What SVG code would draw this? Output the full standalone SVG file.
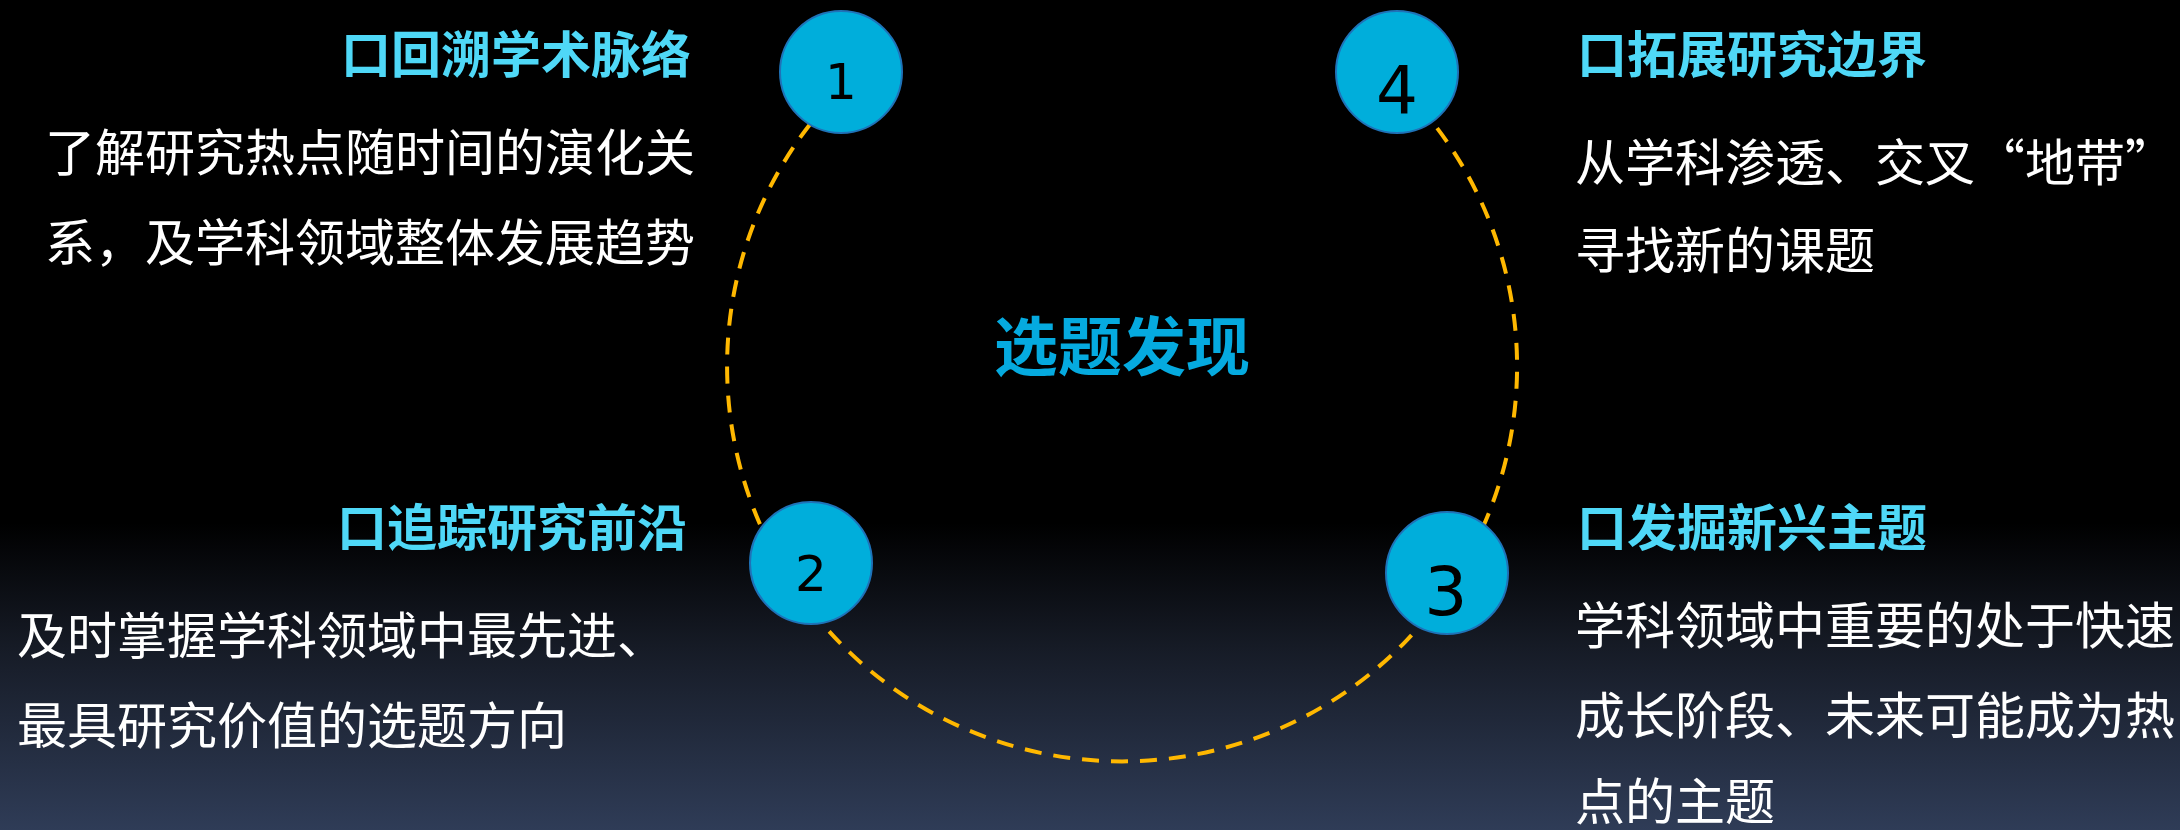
<svg xmlns="http://www.w3.org/2000/svg" width="2180" height="830" viewBox="0 0 2180 830">
  <defs>
    <linearGradient id="bg" x1="0" y1="0" x2="0" y2="1">
      <stop offset="0" stop-color="#000000"/>
      <stop offset="0.63" stop-color="#000000"/>
      <stop offset="0.78" stop-color="#161b26"/>
      <stop offset="1" stop-color="#2f3c57"/>
    </linearGradient>
    <style>
      .head { font-family: "Noto Sans CJK SC", sans-serif; font-weight: 700; font-size: 50px; fill: #4fd8f7; }
      .body { font-family: "Noto Sans CJK SC", sans-serif; font-weight: 400; font-size: 50px; fill: #ffffff; }
      .title { font-family: "Noto Sans CJK SC", sans-serif; font-weight: 700; font-size: 64px; fill: #05aadf; }
      .node { fill: #00aedb; stroke: #1f72b8; stroke-width: 2; }
      .num { font-family: "DejaVu Sans", sans-serif; fill: #000000; text-anchor: middle; }
      .ring { fill: none; stroke: #ffb800; stroke-width: 4; stroke-dasharray: 17 12; }
    </style>
  </defs>
  <rect x="0" y="0" width="2180" height="830" fill="url(#bg)"/>

  <g id="connectors">
    <path class="ring" d="M 849 81 A 395 395 0 1 0 1392 78"/>
  </g>

  <g id="center-title">
    <text class="title" x="1122" y="370" text-anchor="middle">选题发现</text>
  </g>

  <g id="node-1">
    <circle class="node" cx="841" cy="72" r="61"/>
    <text class="num" x="841" y="99" font-size="50">1</text>
  </g>
  <g id="node-2">
    <circle class="node" cx="811" cy="563" r="61"/>
    <text class="num" x="811" y="591" font-size="50">2</text>
  </g>
  <g id="node-3">
    <circle class="node" cx="1447" cy="573" r="61"/>
    <text class="num" x="1446" y="615" font-size="68">3</text>
  </g>
  <g id="node-4">
    <circle class="node" cx="1397" cy="72" r="61"/>
    <text class="num" x="1397" y="113" font-size="66">4</text>
  </g>

  <g id="text-1">
    <text class="head" x="691" y="73" text-anchor="end">口回溯学术脉络</text>
    <text class="body" x="45" y="171">了解研究热点随时间的演化关</text>
    <text class="body" x="45" y="261">系，及学科领域整体发展趋势</text>
  </g>
  <g id="text-2">
    <text class="head" x="687" y="546" text-anchor="end">口追踪研究前沿</text>
    <text class="body" x="17" y="654">及时掌握学科领域中最先进、</text>
    <text class="body" x="17" y="744">最具研究价值的选题方向</text>
  </g>
  <g id="text-3">
    <text class="head" x="1577" y="546">口发掘新兴主题</text>
    <text class="body" x="1575" y="644">学科领域中重要的处于快速</text>
    <text class="body" x="1575" y="734">成长阶段、未来可能成为热</text>
    <text class="body" x="1575" y="820">点的主题</text>
  </g>
  <g id="text-4">
    <text class="head" x="1577" y="73">口拓展研究边界</text>
    <text class="body" x="1575" y="181">从学科渗透、交叉“地带”</text>
    <text class="body" x="1575" y="269">寻找新的课题</text>
  </g>
</svg>
